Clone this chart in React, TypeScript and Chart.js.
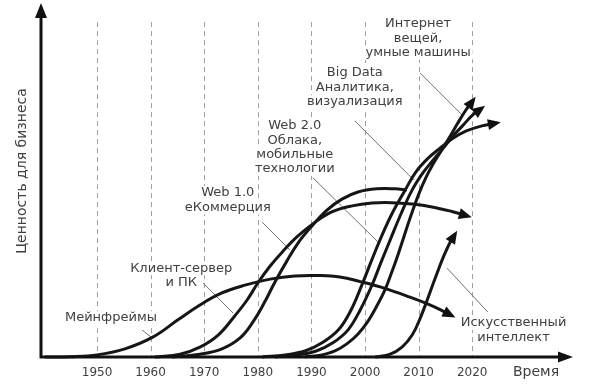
import React, { useEffect, useRef } from "react";
import { Chart, registerables } from "chart.js";

Chart.register(...registerables);

type Pt = [number, number];

// ---- data ----
const tickYears = [1950, 1960, 1970, 1980, 1990, 2000, 2010, 2020];
const xTitle = "Время";
const yTitle = "Ценность для бизнеса";

const mainframes: Pt[] = [
  [1940.3, 0], [1945.0, 0.1], [1950.0, 0.6], [1955.2, 2.3], [1960.4, 5.6], [1965.1, 10.5],
  [1969.2, 14.7], [1973.3, 18.1], [1977.6, 20.3], [1982.3, 22.0], [1986.9, 22.9], [1991.6, 23.0],
  [1995.3, 22.6], [1999.1, 21.3], [2003.7, 19.4], [2008.4, 16.9], [2012.1, 14.7], [2014.9, 12.7],
  [2016.2, 11.7],
];
const clientServer: Pt[] = [
  [1960.8, 0], [1965.5, 0.8], [1969.2, 2.8], [1972.6, 6.2], [1975.7, 11.6], [1978.0, 16.1],
  [1980.0, 20.9], [1982.3, 25.7], [1984.7, 29.9], [1987.5, 34.2], [1990.7, 38.1], [1993.8, 41.0],
  [1997.6, 42.7], [2001.3, 43.5], [2005.0, 43.6], [2008.8, 43.2], [2012.5, 42.4], [2016.2, 41.1],
  [2019.2, 39.8],
];
const web1: Pt[] = [
  [1964.0, 0], [1969.2, 0.8], [1973.3, 2.3], [1976.7, 5.4], [1979.1, 9.9], [1981.2, 15.3],
  [1983.2, 21.2], [1985.3, 26.8], [1987.5, 32.2], [1990.1, 37.0], [1992.9, 41.5], [1995.7, 44.6],
  [1998.7, 46.6], [2002.2, 47.5], [2005.6, 47.5], [2007.8, 47.2],
];
const web2: Pt[] = [
  [1980.8, 0], [1985.1, 0.6], [1988.8, 1.7], [1992.0, 4.0], [1995.0, 7.6], [1997.2, 12.7],
  [1999.4, 20.3], [2001.1, 26.8], [2002.8, 33.1], [2005.0, 40.4], [2007.5, 47.2], [2009.5, 52.3],
  [2011.8, 56.2], [2014.0, 59.0], [2016.2, 61.6], [2018.8, 63.8], [2021.8, 65.3], [2024.6, 66.1],
];
const bigData: Pt[] = [
  [1983.2, 0], [1987.5, 0.6], [1990.9, 1.7], [1994.0, 4.0], [1996.8, 7.6], [1999.1, 13.3],
  [2001.3, 20.3], [2003.0, 26.8], [2004.7, 33.1], [2006.7, 40.4], [2008.8, 47.2], [2010.8, 52.0],
  [2012.7, 55.6], [2014.6, 59.0], [2016.4, 62.4], [2018.3, 65.5], [2020.1, 68.4], [2021.8, 70.3],
];
const iot: Pt[] = [
  [1988.8, 0], [1992.0, 0.6], [1994.4, 1.7], [1996.6, 3.7], [1998.7, 6.5], [2000.6, 10.2],
  [2002.2, 14.4], [2003.7, 18.9], [2005.0, 24.0], [2006.2, 29.1], [2007.3, 34.2], [2008.6, 40.1],
  [2010.1, 46.3], [2011.4, 50.8], [2012.7, 54.5], [2014.2, 58.2], [2015.7, 61.9], [2017.2, 65.8],
  [2018.7, 69.5], [2020.2, 72.6],
];
const ai: Pt[] = [
  [2001.9, 0], [2004.7, 0.8], [2006.9, 2.8], [2008.8, 6.2], [2010.3, 11.0], [2011.6, 16.1],
  [2013.1, 22.3], [2014.6, 28.2], [2015.9, 32.5], [2016.8, 34.7],
];

const series: { name: string; points: Pt[]; arrow: boolean }[] = [
  { name: "Мейнфреймы", points: mainframes, arrow: true },
  { name: "Клиент-сервер и ПК", points: clientServer, arrow: true },
  { name: "Web 1.0", points: web1, arrow: false },
  { name: "Web 2.0", points: web2, arrow: true },
  { name: "Big Data", points: bigData, arrow: true },
  { name: "Интернет вещей", points: iot, arrow: true },
  { name: "Искусственный интеллект", points: ai, arrow: true },
];

const annotations: { lines: string[]; at: Pt; leader: [Pt, Pt] }[] = [
  { lines: ["Мейнфреймы"], at: [1952.6, 11.0], leader: [[1958.4, 7.6], [1960.3, 5.4]] },
  { lines: ["Клиент-сервер", "и ПК"], at: [1965.7, 25.1], leader: [[1969.8, 20.9], [1975.4, 12.4]] },
  { lines: ["Web 1.0", "еКоммерция"], at: [1974.4, 46.3], leader: [[1980.8, 38.1], [1986.0, 30.2]] },
  { lines: ["Web 2.0", "Облака,", "мобильные", "технологии"], at: [1986.9, 65.3], leader: [[1990.3, 50.6], [2002.4, 32.5]] },
  { lines: ["Big Data", "Аналитика,", "визуализация"], at: [1998.1, 80.2], leader: [[1998.1, 66.7], [2009.1, 50.0]] },
  { lines: ["Интернет", "вещей,", "умные машины"], at: [2009.9, 94.1], leader: [[2010.3, 80.2], [2018.1, 68.4]] },
  { lines: ["Искусственный", "интеллект"], at: [2027.7, 9.6], leader: [[2015.3, 25.1], [2022.9, 12.7]] },
];

// ---- styles ----
const FONT = '"DejaVu Sans", sans-serif';
const TEXT = "#404040";
const GRID_TOP = 94.6;
const LINE_H = 14.4;

const decor = {
  id: "decor",
  beforeDatasetsDraw(chart: any) {
    const { ctx, chartArea, scales } = chart;
    const x = scales.x, y = scales.y;
    ctx.save();
    ctx.strokeStyle = "#a0a0a0";
    ctx.lineWidth = 1;
    ctx.setLineDash([5, 4]);
    for (const yr of tickYears) {
      const px = Math.round(x.getPixelForValue(yr)) + 0.5;
      ctx.beginPath();
      ctx.moveTo(px, y.getPixelForValue(GRID_TOP));
      ctx.lineTo(px, chartArea.bottom);
      ctx.stroke();
    }
    ctx.setLineDash([]);
    ctx.font = "13px " + FONT;
    ctx.textAlign = "center";
    ctx.textBaseline = "middle";
    for (const a of annotations) {
      const cx = x.getPixelForValue(a.at[0]);
      const cy = y.getPixelForValue(a.at[1]);
      a.lines.forEach((t, i) => {
        const yy = cy + i * LINE_H;
        const w = ctx.measureText(t).width;
        ctx.fillStyle = "#fff";
        ctx.fillRect(cx - w / 2 - 2, yy - 7, w + 4, 14);
        ctx.fillStyle = TEXT;
        ctx.fillText(t, cx, yy);
      });
    }
    ctx.strokeStyle = "#707070";
    ctx.lineWidth = 1;
    for (const a of annotations) {
      const [p, q] = a.leader;
      ctx.beginPath();
      ctx.moveTo(x.getPixelForValue(p[0]), y.getPixelForValue(p[1]));
      ctx.lineTo(x.getPixelForValue(q[0]), y.getPixelForValue(q[1]));
      ctx.stroke();
    }
    ctx.restore();
  },
  afterDatasetsDraw(chart: any) {
    const { ctx, chartArea } = chart;
    ctx.save();
    ctx.fillStyle = "#111";
    chart.data.datasets.forEach((ds: any, i: number) => {
      if (!ds.arrow) return;
      const pts = chart.getDatasetMeta(i).data;
      const last = pts[pts.length - 1];
      const prev = pts[pts.length - 2];
      let fx = last.cp1x, fy = last.cp1y;
      if (fx === undefined || (Math.abs(fx - last.x) < 0.01 && Math.abs(fy - last.y) < 0.01)) {
        fx = prev.x; fy = prev.y;
      }
      let dx = last.x - fx, dy = last.y - fy;
      const len = Math.hypot(dx, dy) || 1;
      dx /= len; dy /= len;
      const L = 13, H = 5.5;
      const tx = last.x + dx * 4, ty = last.y + dy * 4;
      const bx = tx - dx * L, by = ty - dy * L;
      ctx.beginPath();
      ctx.moveTo(tx, ty);
      ctx.lineTo(bx - dy * H, by + dx * H);
      ctx.lineTo(bx + dy * H, by - dx * H);
      ctx.closePath();
      ctx.fill();
    });
    // axes
    const left = chartArea.left, bottom = chartArea.bottom;
    ctx.strokeStyle = "#111";
    ctx.lineWidth = 3;
    ctx.beginPath();
    ctx.moveTo(left, bottom + 1.5);
    ctx.lineTo(left, chartArea.top + 12);
    ctx.moveTo(left - 1.5, bottom);
    ctx.lineTo(chartArea.right - 12, bottom);
    ctx.stroke();
    ctx.beginPath();
    ctx.moveTo(left, chartArea.top);
    ctx.lineTo(left - 6, chartArea.top + 15);
    ctx.lineTo(left + 6, chartArea.top + 15);
    ctx.closePath();
    ctx.fill();
    ctx.beginPath();
    ctx.moveTo(chartArea.right, bottom);
    ctx.lineTo(chartArea.right - 15, bottom - 5.5);
    ctx.lineTo(chartArea.right - 15, bottom + 5.5);
    ctx.closePath();
    ctx.fill();
    // tick labels
    const x = chart.scales.x;
    ctx.fillStyle = TEXT;
    ctx.font = "12px " + FONT;
    ctx.textAlign = "center";
    ctx.textBaseline = "middle";
    for (const yr of tickYears) {
      ctx.fillText(String(yr), x.getPixelForValue(yr), bottom + 16);
    }
    ctx.font = "14px " + FONT;
    ctx.textAlign = "left";
    ctx.fillText(xTitle, 513, bottom + 15);
    ctx.save();
    ctx.translate(22, 171);
    ctx.rotate(-Math.PI / 2);
    ctx.textAlign = "center";
    ctx.fillText(yTitle, 0, 0);
    ctx.restore();
    ctx.restore();
  },
};

export default function App() {
  const ref = useRef<HTMLCanvasElement>(null);
  useEffect(() => {
    if (!ref.current) return;
    const chart = new Chart(ref.current, {
      type: "line",
      data: {
        datasets: series.map((s) => ({
          label: s.name,
          data: s.points.map(([x, y]) => ({ x, y })),
          arrow: s.arrow,
          borderColor: "#161616",
          borderWidth: 3,
          pointRadius: 0,
          fill: false,
          tension: 0.4,
          clip: false,
        })) as any,
      },
      options: {
        animation: false,
        responsive: false,
        devicePixelRatio: 1,
        layout: { padding: { left: 41, right: 18, top: 3, bottom: 28 } },
        scales: {
          x: { type: "linear", min: 1939.55, max: 2038.8, display: false },
          y: { min: 0, max: 100, display: false },
        },
        plugins: { legend: { display: false }, tooltip: { enabled: false } },
        events: [],
      },
      plugins: [decor],
    });
    return () => chart.destroy();
  }, []);
  return (
    <div style={{ width: 591, height: 385, background: "#fff" }}>
      <style>{`body{margin:0;overflow:hidden;background:#fff}`}</style>
      <canvas ref={ref} width={591} height={385} style={{ display: "block" }} />
    </div>
  );
}
